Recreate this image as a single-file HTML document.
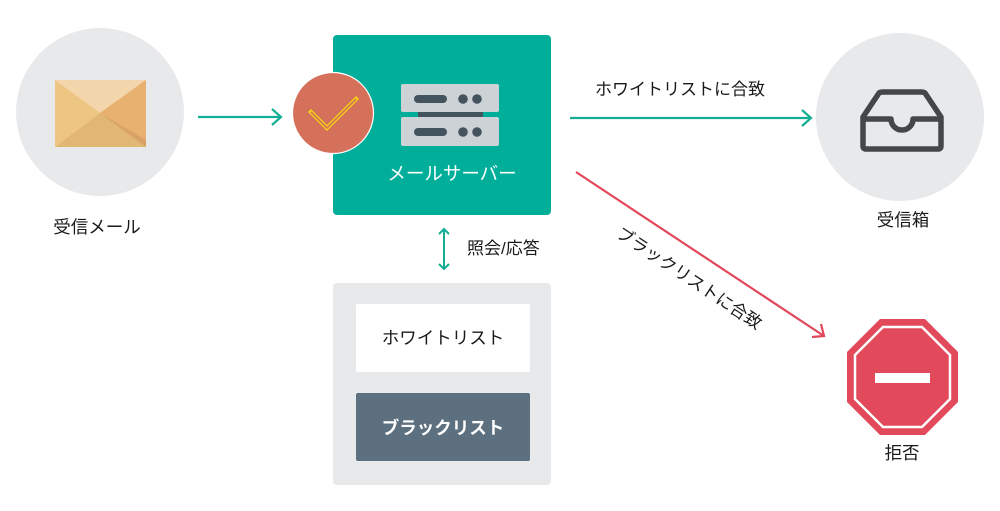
<!DOCTYPE html>
<html><head><meta charset="utf-8"><style>
html,body{margin:0;padding:0;background:#fff;}
svg{display:block;}
text{font-family:"Liberation Sans","Noto Sans CJK JP",sans-serif;}
</style></head><body>
<svg width="1000" height="511" viewBox="0 0 1000 511" xmlns="http://www.w3.org/2000/svg">
<!-- left circle -->
<circle cx="100" cy="112" r="84" fill="#E8E9EB"/>
<polygon points="55,80 146,80 146,147 55,147" fill="#EEC684"/>
<polygon points="55,80 146,80 100,113" fill="#F3D6AB"/>
<polygon points="146,80 146,147 100,113" fill="#E9B16F"/>
<polygon points="55,147 146,147 100,113" fill="#E2B674"/>
<polygon points="100,113 146,140 146,147" fill="#D9A266"/>
<text x="97" y="233" font-size="17.5" text-anchor="middle" fill="#1a1a1a">受信メール</text>
<!-- arrow 1 -->
<line x1="198" y1="117" x2="281" y2="117" stroke="#14AE95" stroke-width="2.2"/>
<polyline points="272,109 281,117 272,125" fill="none" stroke="#14AE95" stroke-width="2.2"/>
<!-- green server box -->
<rect x="333" y="35" width="218" height="180" rx="4" fill="#00AE9A"/>
<rect x="401" y="84" width="98" height="28" rx="2" fill="#CDD2D6"/>
<rect x="401" y="117" width="98" height="29" rx="2" fill="#CDD2D6"/>
<rect x="418" y="112" width="65" height="5" fill="#44545F"/>
<rect x="414" y="95" width="33" height="8" rx="4" fill="#44545F"/>
<circle cx="463" cy="99" r="4.8" fill="#44545F"/>
<circle cx="477" cy="99" r="4.8" fill="#44545F"/>
<rect x="414" y="128" width="33" height="8" rx="4" fill="#44545F"/>
<circle cx="463" cy="132" r="4.8" fill="#44545F"/>
<circle cx="477" cy="132" r="4.8" fill="#44545F"/>
<text x="452" y="180" font-size="18.5" text-anchor="middle" fill="#fff">メールサーバー</text>
<!-- orange check circle -->
<circle cx="333" cy="113" r="40.5" fill="#D5705A" stroke="#fff" stroke-width="1.2"/>
<polyline points="311,112 327,128 356,99" fill="none" stroke="#F5D414" stroke-width="4.2" stroke-linejoin="miter" stroke-linecap="square"/>
<polyline points="311,112 327,128 356,99" fill="none" stroke="#D5705A" stroke-width="1.6" stroke-linejoin="miter"/>
<!-- green arrow to inbox -->
<line x1="570" y1="118" x2="811" y2="118" stroke="#14AE95" stroke-width="2.2"/>
<polyline points="802,110 811,118 802,126" fill="none" stroke="#14AE95" stroke-width="2.2"/>
<text x="680" y="95" font-size="17" text-anchor="middle" fill="#1a1a1a">ホワイトリストに合致</text>
<!-- right circle inbox -->
<circle cx="900" cy="117" r="84" fill="#E8E9EB"/>
<path d="M863,117 L879,93 Q880,92 883,92 L921,92 Q924,92 925,93 L941,117 L941,146 Q941,149 938,149 L866,149 Q863,149 863,146 Z" fill="none" stroke="#444649" stroke-width="5.5" stroke-linejoin="round"/>
<path d="M863,119 L891,119 A11,11 0 0 0 913,119 L941,119" fill="none" stroke="#444649" stroke-width="5.5" stroke-linejoin="round"/>
<text x="903" y="226" font-size="17.5" text-anchor="middle" fill="#1a1a1a">受信箱</text>
<!-- red arrow -->
<line x1="576" y1="172" x2="824" y2="336" stroke="#E2475A" stroke-width="2.2"/>
<polyline points="812,337 824,336 821,324" fill="none" stroke="#E2475A" stroke-width="2.2"/>
<text x="0" y="0" font-size="17" text-anchor="middle" fill="#1a1a1a" transform="translate(686,283) rotate(33.5)">ブラックリストに合致</text>
<!-- stop sign -->
<polygon points="880,319 925,319 958,352 958,402 925,435 880,435 847,402 847,352" fill="#E24A5B"/>
<polygon points="883,327 922,327 950,355 950,399 922,427 883,427 855,399 855,355" fill="none" stroke="#fff" stroke-width="2.5"/>
<rect x="875" y="373" width="55" height="10" fill="#fff"/>
<text x="902" y="459" font-size="17.5" text-anchor="middle" fill="#1a1a1a">拒否</text>
<!-- double arrow -->
<line x1="444" y1="229" x2="444" y2="269" stroke="#14AE95" stroke-width="2"/>
<polyline points="439,234 444,229 449,234" fill="none" stroke="#14AE95" stroke-width="2"/>
<polyline points="439,264 444,269 449,264" fill="none" stroke="#14AE95" stroke-width="2"/>
<text x="467" y="254" font-size="17" fill="#1a1a1a">照会/応答</text>
<!-- list box -->
<rect x="333" y="283" width="218" height="202" rx="4" fill="#E8E9EB"/>
<rect x="356" y="304" width="174" height="68" rx="2" fill="#fff"/>
<text x="443" y="344" font-size="17.5" text-anchor="middle" fill="#1a1a1a">ホワイトリスト</text>
<rect x="356" y="393" width="174" height="68" rx="2" fill="#5C7080"/>
<text x="443" y="434" font-size="17.5" font-weight="bold" text-anchor="middle" fill="#fff">ブラックリスト</text>
</svg>
</body></html>
